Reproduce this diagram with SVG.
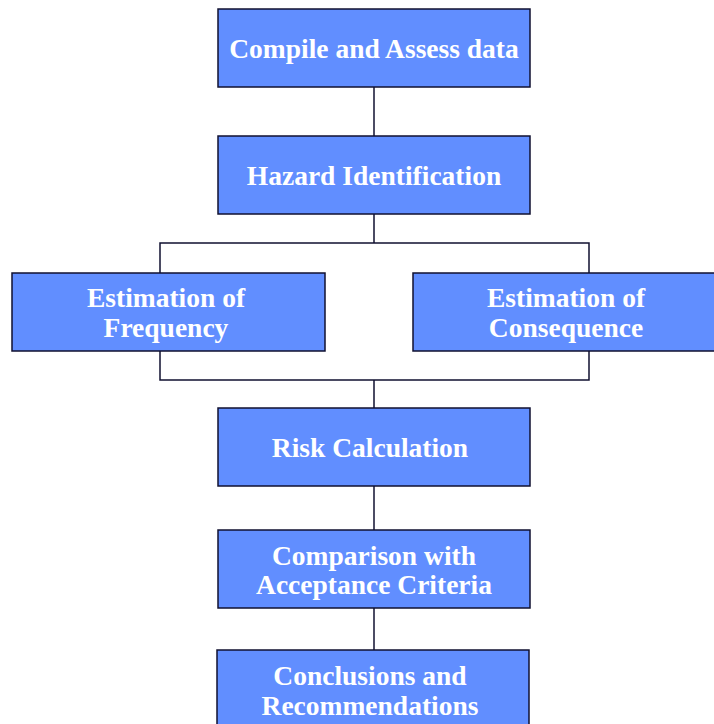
<svg xmlns="http://www.w3.org/2000/svg" width="714" height="724" viewBox="0 0 714 724">
<style>
.box{fill:#618EFF;stroke:#101030;stroke-width:1.5}
.t{font-family:"Liberation Serif","Times New Roman",serif;font-weight:bold;font-size:27.5px;fill:#ffffff;text-anchor:middle}
.c{fill:none;stroke:#101030;stroke-width:1.5}
</style>
<rect width="714" height="724" fill="#ffffff"/>
<g id="connectors">
<path class="c" d="M374,87V136"/>
<path class="c" d="M374,214V243M160,273V243H589V273"/>
<path class="c" d="M160,351V380H589V351M374,380V408"/>
<path class="c" d="M374,486V530"/>
<path class="c" d="M374,608V650"/>
</g>
<g id="compile"><rect class="box" x="218" y="9" width="312" height="78"/><text class="t" x="374" y="58">Compile and Assess data</text></g>
<g id="hazard"><rect class="box" x="218" y="136" width="312" height="78"/><text class="t" x="374" y="185">Hazard Identification</text></g>
<g id="frequency"><rect class="box" x="12" y="273" width="313" height="78"/><text class="t" x="166" y="307">Estimation of</text><text class="t" x="166" y="337">Frequency</text></g>
<g id="consequence"><rect class="box" x="413" y="273" width="313" height="78"/><text class="t" x="566" y="307">Estimation of</text><text class="t" x="566" y="337">Consequence</text></g>
<g id="risk"><rect class="box" x="218" y="408" width="312" height="78"/><text class="t" x="370" y="457">Risk Calculation</text></g>
<g id="comparison"><rect class="box" x="218" y="530" width="312" height="78"/><text class="t" x="374" y="565">Comparison with</text><text class="t" x="374" y="594">Acceptance Criteria</text></g>
<g id="conclusions"><rect class="box" x="217" y="650" width="312" height="80"/><text class="t" x="370" y="685">Conclusions and</text><text class="t" x="370" y="715">Recommendations</text></g>
</svg>
